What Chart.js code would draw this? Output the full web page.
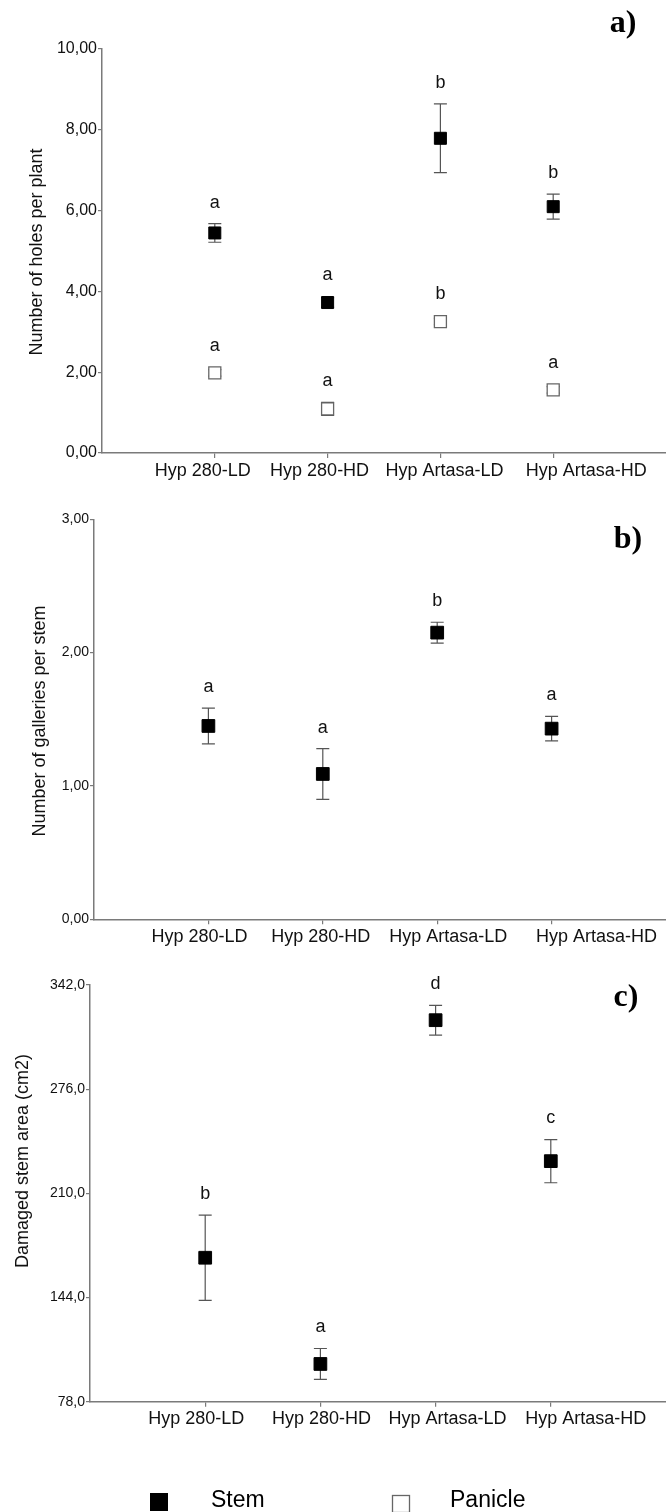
<!DOCTYPE html>
<html>
<head>
<meta charset="utf-8">
<script src="https://cdn.jsdelivr.net/npm/chart.js@4.4.1/dist/chart.umd.min.js"></script>
<style>
html, body { margin: 0; padding: 0; background: #fff; }
body { width: 666px; height: 1512px; position: relative; overflow: hidden; }
canvas { position: absolute; left: 0; }
</style>
</head>
<body>
<canvas id="chartA" width="666" height="490" style="top:0px"></canvas>
<canvas id="chartB" width="666" height="470" style="top:490px"></canvas>
<canvas id="chartC" width="666" height="552" style="top:960px"></canvas>
<script>
var treatments = ['Hyp 280-LD', 'Hyp 280-HD', 'Hyp Artasa-LD', 'Hyp Artasa-HD'];

// a) number of holes per plant
var holesTicks = [0, 2, 4, 6, 8, 10];
var holesStem = [5.44, 3.72, 7.78, 6.09];
var holesStemSE = [0.23, 0.12, 0.85, 0.31];
var holesStemLetters = ['a', 'a', 'b', 'b'];
var holesPanicle = [1.98, 1.09, 3.25, 1.56];
var holesPanicleSE = [0.08, 0.16, 0.08, 0.08];
var holesPanicleLetters = ['a', 'a', 'b', 'a'];

// b) number of galleries per stem
var galleriesTicks = [0, 1, 2, 3];
var galleries = [1.45, 1.09, 2.15, 1.43];
var galleriesSE = [0.134, 0.19, 0.078, 0.092];
var galleriesLetters = ['a', 'a', 'b', 'a'];

// c) damaged stem area
var areaTicks = [78, 144, 210, 276, 342];
var area = [169.2, 101.9, 319.7, 230.4];
var areaSE = [27.0, 9.8, 9.4, 13.7];
var areaLetters = ['b', 'a', 'd', 'c'];

var SANS = 'Arial, "Liberation Sans", sans-serif';
var SERIF = '"Times New Roman", "Liberation Serif", serif';
var AXIS = '#7a7a7a';

function points(values) {
    return values.map(function (v, i) { return { x: i + 1, y: v }; });
}

// vertical error bars with caps, drawn under the markers
var errorBars = {
    id: 'errorBars',
    beforeDatasetsDraw: function (chart) {
        var ctx = chart.ctx, xs = chart.scales.x, ys = chart.scales.y;
        ctx.save();
        ctx.strokeStyle = '#555';
        ctx.lineWidth = 1.2;
        chart.data.datasets.forEach(function (ds) {
            ds.data.forEach(function (p, i) {
                var e = ds.errors[i];
                var px = xs.getPixelForValue(p.x);
                var top = ys.getPixelForValue(p.y + e);
                var bot = ys.getPixelForValue(p.y - e);
                ctx.beginPath();
                ctx.moveTo(px, top); ctx.lineTo(px, bot);
                ctx.moveTo(px - 6.5, top); ctx.lineTo(px + 6.5, top);
                ctx.moveTo(px - 6.5, bot); ctx.lineTo(px + 6.5, bot);
                ctx.stroke();
            });
        });
        ctx.restore();
    },
    // significance letters above each mean
    afterDatasetsDraw: function (chart) {
        var ctx = chart.ctx, xs = chart.scales.x, ys = chart.scales.y;
        ctx.save();
        ctx.fillStyle = '#111';
        ctx.font = '18px ' + SANS;
        ctx.textAlign = 'center';
        ctx.textBaseline = 'middle';
        chart.data.datasets.forEach(function (ds) {
            var half = ds.pointRadius * Math.SQRT1_2;
            ds.data.forEach(function (p, i) {
                var px = xs.getPixelForValue(p.x);
                var top = Math.min(ys.getPixelForValue(p.y + ds.errors[i]), ys.getPixelForValue(p.y) - half);
                ctx.fillText(ds.letters[i], px, top - 21);
            });
        });
        ctx.restore();
    }
};

// panel letter, y axis title and (optionally) the legend
var panelText = {
    id: 'panelText',
    afterDraw: function (chart) {
        var o = chart.options.plugins.panelText;
        var ctx = chart.ctx;
        ctx.save();
        ctx.fillStyle = '#000';
        ctx.font = 'bold 32px ' + SERIF;
        ctx.textAlign = 'center';
        ctx.textBaseline = 'middle';
        ctx.fillText(o.letter, o.letterX, o.letterY);

        ctx.save();
        ctx.translate(o.titleX, o.titleY);
        ctx.rotate(-Math.PI / 2);
        ctx.font = '18px ' + SANS;
        ctx.fillStyle = '#111';
        ctx.fillText(o.title, 0, 0);
        ctx.restore();

        if (o.legend) {
            ctx.font = '23px ' + SANS;
            ctx.textAlign = 'left';
            ctx.fillStyle = '#000';
            ctx.fillRect(150, 533, 18, 18);
            ctx.fillText('Stem', 211, 541);
            ctx.strokeStyle = '#666';
            ctx.lineWidth = 1.3;
            ctx.strokeRect(392.5, 535.5, 17, 17);
            ctx.fillText('Panicle', 450, 541);
        }
        ctx.restore();
    }
};

function seriesStyle(filled) {
    return {
        showLine: false,
        pointStyle: 'rect',
        pointRadius: 9,
        pointHoverRadius: 9,
        backgroundColor: filled ? '#000' : '#fff',
        borderColor: filled ? '#000' : '#666',
        borderWidth: filled ? 1 : 1.3
    };
}

// p: panel layout (paddings, axis widths, label shifts in px, texts)
function makeChart(canvasId, datasets, yTicks, decimals, p) {
    var pxPerUnit = (666 - p.yWidth) / 5;
    return new Chart(document.getElementById(canvasId), {
        type: 'scatter',
        data: { datasets: datasets },
        plugins: [errorBars, panelText],
        options: {
            responsive: false,
            animation: false,
            events: [],
            layout: { autoPadding: false, padding: { top: p.padTop, left: 0, right: 0, bottom: 0 } },
            plugins: { legend: { display: false }, tooltip: { enabled: false }, panelText: p },
            scales: {
                x: {
                    type: 'linear',
                    position: 'bottom',
                    min: 0,
                    max: 5,
                    afterBuildTicks: function (s) {
                        s.ticks = treatments.map(function (t, i) { return { value: i + 1 }; });
                    },
                    afterFit: function (s) { s.height = 5; },
                    ticks: { display: false },
                    grid: { drawOnChartArea: false, drawTicks: true, tickLength: 5, color: AXIS, lineWidth: 1.2 },
                    border: { color: AXIS, width: 1.5 }
                },
                xl: {
                    type: 'linear',
                    axis: 'x',
                    position: 'bottom',
                    min: 0,
                    max: 5,
                    afterBuildTicks: function (s) {
                        s.ticks = treatments.map(function (t, i) { return { value: i + 1 + p.labelShift[i] / pxPerUnit }; });
                    },
                    afterFit: function (s) { s.height = p.xHeight - 5; },
                    ticks: {
                        callback: function (v, i) { return treatments[i]; },
                        font: { family: SANS, size: 18 },
                        color: '#111',
                        padding: 2,
                        maxRotation: 0,
                        autoSkip: false
                    },
                    grid: { display: false, drawTicks: false },
                    border: { display: false }
                },
                y: {
                    min: yTicks[0],
                    max: yTicks[yTicks.length - 1],
                    afterBuildTicks: function (s) {
                        s.ticks = yTicks.map(function (v) { return { value: v }; });
                    },
                    afterFit: function (s) { s.width = p.yWidth; },
                    ticks: {
                        callback: function (v) { return v.toFixed(decimals).replace('.', ','); },
                        font: { family: SANS, size: p.tickSize },
                        color: '#111',
                        padding: 1
                    },
                    grid: { drawOnChartArea: false, drawTicks: true, tickLength: 4, color: AXIS, lineWidth: 1.2 },
                    border: { color: AXIS, width: 1.5 }
                }
            }
        }
    });
}

makeChart('chartA', [
    Object.assign({ label: 'Stem', data: points(holesStem), errors: holesStemSE, letters: holesStemLetters }, seriesStyle(true), { pointRadius: 8.5 }),
    Object.assign({ label: 'Panicle', data: points(holesPanicle), errors: holesPanicleSE, letters: holesPanicleLetters }, seriesStyle(false), { pointRadius: 8.5 })
], holesTicks, 2, {
    padTop: 48.5, yWidth: 102, xHeight: 37, tickSize: 16, labelShift: [-12, -8, 4, 33],
    letter: 'a)', letterX: 623, letterY: 24, title: 'Number of holes per plant', titleX: 37, titleY: 252
});

makeChart('chartB', [
    Object.assign({ label: 'Stem', data: points(galleries), errors: galleriesSE, letters: galleriesLetters }, seriesStyle(true))
], galleriesTicks, 2, {
    padTop: 29.3, yWidth: 94, xHeight: 40.7, tickSize: 14, labelShift: [-9, -2, 11, 45],
    letter: 'b)', letterX: 628, letterY: 50, title: 'Number of galleries per stem', titleX: 40, titleY: 231
});

makeChart('chartC', [
    Object.assign({ label: 'Stem', data: points(area), errors: areaSE, letters: areaLetters }, seriesStyle(true))
], areaTicks, 1, {
    padTop: 25, yWidth: 90, xHeight: 110.3, tickSize: 14, labelShift: [-9, 1, 12, 35],
    letter: 'c)', letterX: 626, letterY: 38, title: 'Damaged stem area (cm2)', titleX: 23, titleY: 201, legend: true
});
</script>
</body>
</html>
